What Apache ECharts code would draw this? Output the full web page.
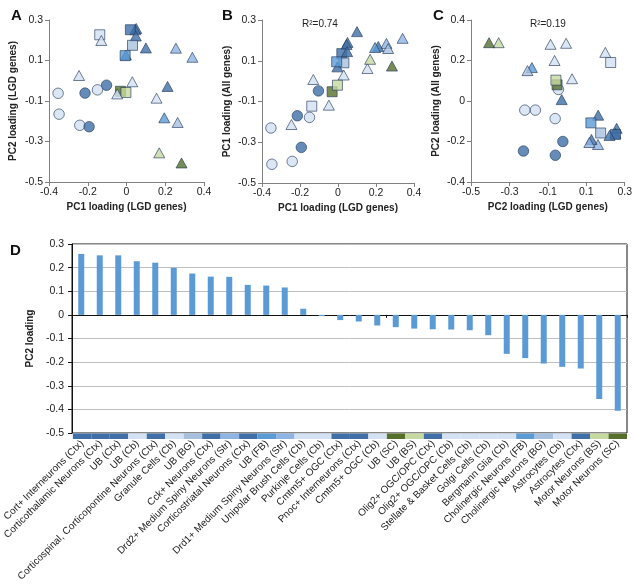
<!DOCTYPE html>
<html><head><meta charset="utf-8">
<script src="https://cdn.jsdelivr.net/npm/echarts@6/dist/echarts.min.js"></script>
<style>html,body{margin:0;padding:0;background:#fff}#c{width:635px;height:584px}</style>
</head><body><div id="c"></div>
<script>
// ---- data ----
const categories = ['Cort+ Interneurons (Ctx)','Corticothalamic Neurons (Ctx)','UB (Ctx)','UB (Cb)',
 'Corticospinal, Corticopontine Neurons (Ctx)','Granule Cells (Cb)','UB (BG)','Cck+ Neurons (Ctx)',
 'Drd2+ Medium Spiny Neurons (Str)','Corticostriatal Neurons (Ctx)','UB (FB)','Drd1+ Medium Spiny Neurons (Str)',
 'Unipolar Brush Cells (Cb)','Purkinje Cells (Cb)','Cmtm5+ OGC (Ctx)','Pnoc+ Interneurons (Ctx)','Cmtm5+ OGC (Cb)',
 'UB (SC)','UB (BS)','Olig2+ OGC/OPC (Ctx)','Olig2+ OGC/OPC (Cb)','Stellate & Basket Cells (Cb)','Golgi Cells (Cb)',
 'Bergmann Glia (Cb)','Cholinergic Neurons (FB)','Cholinergic Neurons (BG)','Astrocytes (Cb)','Astrocytes (Ctx)',
 'Motor Neurons (BS)','Motor Neurons (SC)'];
const region = ['Ctx','Ctx','Ctx','Cb','Ctx','Cb','BG','Ctx','Str','Ctx','FB','Str','Cb','Cb','Ctx','Ctx','Cb',
 'SC','BS','Ctx','Cb','Cb','Cb','Cb','FB','BG','Cb','Ctx','BS','SC'];
const shape = ['triangle','triangle','rect','rect','triangle','triangle','rect','triangle','triangle','triangle','rect','triangle',
 'triangle','triangle','circle','triangle','circle','rect','rect','circle','circle','triangle','triangle','circle',
 'triangle','triangle','circle','circle','triangle','triangle'];
// PC2 loading (LGD genes) -- panel D bars, panel A y, panel C x
const pc2LGD = [0.258,0.252,0.252,0.227,0.221,0.199,0.175,0.162,0.161,0.127,0.124,0.116,0.026,-0.005,-0.022,-0.028,
 -0.045,-0.052,-0.058,-0.061,-0.062,-0.065,-0.086,-0.165,-0.183,-0.206,-0.22,-0.227,-0.356,-0.406];
// PC1 loading (LGD genes) -- panel A x, panel B x
const pc1LGD = [0.05,0.045,0.02,-0.138,0.048,-0.13,0.031,0.10,0.255,-0.003,-0.007,0.34,-0.245,0.03,-0.103,0.212,
 -0.15,-0.031,-0.003,-0.214,-0.353,-0.048,0.155,-0.348,0.195,0.264,-0.241,-0.193,0.169,0.284];
// PC1 loading (All genes) -- panel B y
const pc1All = [0.19,0.18,0.135,-0.123,0.145,0.008,0.09,0.243,0.185,0.07,0.095,0.21,-0.213,0.03,-0.048,0.17,
 -0.178,-0.052,-0.02,-0.17,-0.23,-0.118,0.062,-0.408,0.165,0.16,-0.394,-0.325,0.107,0.074];
// PC2 loading (All genes) -- panel C y
const pc2All = [-0.135,-0.16,-0.165,0.19,-0.17,0.24,-0.158,-0.07,-0.215,-0.19,-0.108,-0.205,0.11,0.285,-0.2,0.007,
 0.057,0.08,0.103,-0.268,-0.087,0.20,0.28,-0.045,0.165,0.15,-0.045,-0.247,0.288,0.288];
const starPoint = [-0.203, -0.255];
const r2Labels = ['R\u00b2=0.74', 'R\u00b2=0.19'];

// ---- styles ----
const regionColor = {Ctx:'#3f6fa6', FB:'#5b9bd5', Str:'#8eb4e3', BG:'#a7c0de', Cb:'#d3e1f2', SC:'#56702c', BS:'#c6d9a0'};
const FONT = '"Liberation Sans", Arial, sans-serif';
const fmt = v => { const r = Math.round(v*10)/10; return r === 0 ? '0' : String(r); };

function valAxis(gi, min, max, interval, name, gap, isY) {
  return {
    type:'value', gridIndex:gi, min, max, interval,
    name, nameLocation:'middle', nameGap:gap,
    nameTextStyle:{fontWeight:'bold', fontSize:10, color:'#222', fontFamily:FONT},
    axisLine:{show:true, onZero:false, lineStyle:{color:'#808080', width:1}},
    axisTick:{show:true, length:4, lineStyle:{color:'#808080'}},
    axisLabel:{color:'#222', fontSize:10.5, fontFamily:FONT, formatter:fmt, margin:isY?6:5},
    splitLine:{show:false}
  };
}
function pts(xs, ys) {
  return xs.map((x,i) => ({
    value:[x, ys[i]],
    symbol:shape[i],
    symbolSize: shape[i]==='triangle' ? [11,10] : (shape[i]==='rect' ? 10 : 10.5),
    itemStyle:{color:regionColor[region[i]], borderColor:'#23395a', borderWidth:0.8}
  }));
}

const chart = echarts.init(document.getElementById('c'), null, {renderer:'canvas'});
chart.setOption({
  animation:false,
  textStyle:{fontFamily:FONT},
  title:[
    {text:'A', left:6, top:3, textStyle:{fontSize:15, fontWeight:'bold', color:'#111'}},
    {text:'B', left:217, top:3, textStyle:{fontSize:15, fontWeight:'bold', color:'#111'}},
    {text:'C', left:428, top:3, textStyle:{fontSize:15, fontWeight:'bold', color:'#111'}},
    {text:'D', left:5, top:238, textStyle:{fontSize:15, fontWeight:'bold', color:'#111'}}
  ],
  grid:[
    {left:49, top:20, width:155, height:162},
    {left:262, top:20, width:152, height:163},
    {left:471, top:20, width:155, height:162},
    {left:72, top:244, width:555, height:189, show:true, borderColor:'#111', borderWidth:1},
    {left:72, top:433.5, width:555, height:10}
  ],
  xAxis:[
    valAxis(0,-0.4,0.4,0.2,'PC1 loading (LGD genes)',20,false),
    valAxis(1,-0.4,0.4,0.2,'PC1 loading (LGD genes)',20,false),
    valAxis(2,-0.5,0.3,0.2,'PC2 loading (LGD genes)',20,false),
    {type:'category', gridIndex:3, data:categories,
     axisLine:{show:true, onZero:true, lineStyle:{color:'#111', width:1}},
     axisTick:{show:true, length:3, lineStyle:{color:'#111'}},
     axisLabel:{show:false}, splitLine:{show:false}},
    {type:'category', gridIndex:4, data:categories,
     axisLine:{show:false}, axisTick:{show:false},
     axisLabel:{interval:0, rotate:45, fontSize:10, color:'#222', margin:3, fontFamily:FONT}}
  ],
  yAxis:[
    valAxis(0,-0.5,0.3,0.2,'PC2 loading (LGD genes)',31,true),
    valAxis(1,-0.5,0.3,0.2,'PC1 loading (All genes)',30,true),
    valAxis(2,-0.4,0.4,0.2,'PC2 loading (All genes)',30,true),
    {type:'value', gridIndex:3, min:-0.5, max:0.3, interval:0.1,
     name:'PC2 loading', nameLocation:'middle', nameGap:31,
     nameTextStyle:{fontWeight:'bold', fontSize:10, color:'#222'},
     axisLine:{show:true, lineStyle:{color:'#111'}},
     axisTick:{show:true, length:4, lineStyle:{color:'#111'}},
     axisLabel:{color:'#222', fontSize:10.5, formatter:fmt, margin:8},
     splitLine:{show:true, lineStyle:{color:'#bfbfbf', width:1}}},
    {type:'value', gridIndex:4, min:0, max:1, show:false}
  ],
  series:[
    {type:'scatter', xAxisIndex:0, yAxisIndex:0, data:pts(pc1LGD, pc2LGD)},
    {type:'scatter', xAxisIndex:1, yAxisIndex:1, data:pts(pc1LGD, pc1All),
     markPoint:{symbol:'circle', symbolSize:0, silent:true,
       data:[{coord:[-0.095, 0.3], label:{show:true, formatter:r2Labels[0], fontSize:10, color:'#222', offset:[0,4]}}]}},
    {type:'scatter', xAxisIndex:1, yAxisIndex:1, symbol:'none', symbolSize:0, silent:true,
     data:[starPoint], label:{show:true, position:'inside', formatter:'*', fontSize:12, color:'#222', fontWeight:'bold'}},
    {type:'scatter', xAxisIndex:2, yAxisIndex:2, data:pts(pc2LGD, pc2All),
     markPoint:{symbol:'circle', symbolSize:0, silent:true,
       data:[{coord:[-0.1, 0.4], label:{show:true, formatter:r2Labels[1], fontSize:10, color:'#222', offset:[0,4]}}]}},
    {type:'bar', xAxisIndex:3, yAxisIndex:3, data:pc2LGD, barWidth:6,
     itemStyle:{color:'#5b9bd5'}},
    {type:'bar', xAxisIndex:4, yAxisIndex:4, barWidth:'100%', silent:true,
     data:categories.map((c,i)=>({value:1, itemStyle:{color:regionColor[region[i]]}}))}
  ]
});
</script></body></html>
